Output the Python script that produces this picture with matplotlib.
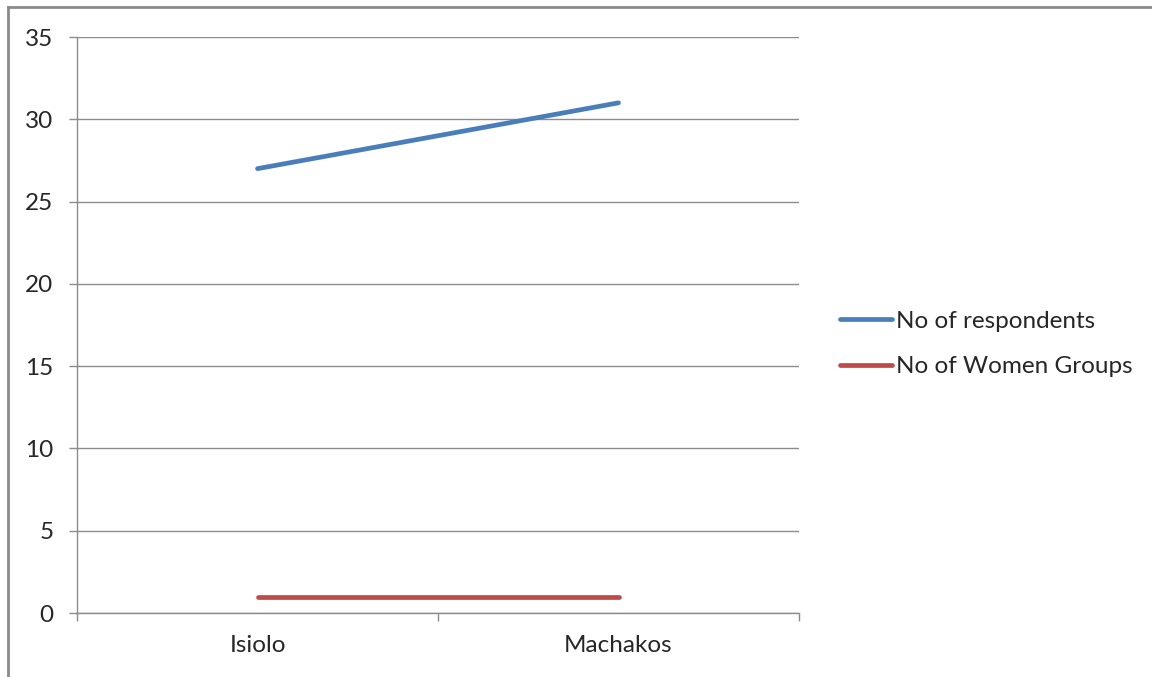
import matplotlib
matplotlib.use("Agg")
import matplotlib.pyplot as plt
from matplotlib.lines import Line2D

counties = ["Isiolo", "Machakos"]
respondents = [27, 31]
women_groups = [1, 1]
series_labels = ["No of respondents", "No of Women Groups"]
y_ticks = [0, 5, 10, 15, 20, 25, 30, 35]

BLUE = "#4A7EBB"
RED = "#BE4B48"
GRID = "#8C8C8C"
TEXT = "#262626"
FS = 17.5

plt.rcParams["font.family"] = ["Lato", "DejaVu Sans"]

fig = plt.figure(figsize=(11.52, 6.77), dpi=100)
ax = fig.add_axes([77 / 1152, 1 - 613 / 677, (799 - 77) / 1152, (613 - 37) / 677])

x = [i + 0.5 for i in range(len(counties))]
ax.plot(x, respondents, color=BLUE, lw=3.4, solid_capstyle="round", label=series_labels[0])
ax.plot(x, women_groups, color=RED, lw=3.4, solid_capstyle="round", label=series_labels[1])

ax.set_xlim(0, len(counties))
ax.set_ylim(0, 35)
ax.set_yticks(y_ticks)
ax.set_yticklabels([str(v) for v in y_ticks])
ax.yaxis.grid(True, color=GRID, lw=1.0)
ax.set_axisbelow(True)

# category boundaries as major ticks, names centred as minor ticks
ax.set_xticks(range(len(counties) + 1))
ax.set_xticklabels([])
ax.set_xticks(x, minor=True)
ax.set_xticklabels(counties, minor=True)
ax.tick_params(axis="x", which="major", direction="out", length=6, color=GRID, width=1.0)
ax.tick_params(axis="x", which="minor", length=0, pad=16, labelsize=FS, labelcolor=TEXT)
ax.tick_params(axis="y", direction="out", length=6, color=GRID, width=1.0, pad=11,
               labelsize=FS, labelcolor=TEXT)

for side in ("top", "right"):
    ax.spines[side].set_visible(False)
for side in ("left", "bottom"):
    ax.spines[side].set_color(GRID)
    ax.spines[side].set_linewidth(1.0)

handles = [Line2D([], [], color=BLUE, lw=3.4, solid_capstyle="round"),
           Line2D([], [], color=RED, lw=3.4, solid_capstyle="round")]
fig.legend(handles, series_labels, loc="center left",
           bbox_to_anchor=(840 / 1152, 1 - 344 / 677), frameon=False,
           fontsize=FS, handlelength=2.15, handletextpad=0.17, labelspacing=1.0,
           labelcolor=TEXT, borderaxespad=0, borderpad=0)

# outer chart frame
fig.add_artist(Line2D([8 / 1152, 8 / 1152], [0, 1 - 7 / 677], transform=fig.transFigure,
                      color="#8A8A8A", lw=2.0))
fig.add_artist(Line2D([8 / 1152, 1], [1 - 7 / 677, 1 - 7 / 677], transform=fig.transFigure,
                      color="#8A8A8A", lw=2.0))

fig.savefig("out.png", dpi=100, facecolor="white")
